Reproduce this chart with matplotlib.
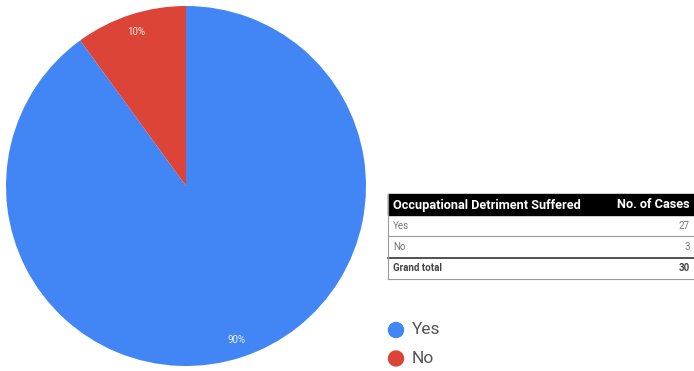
import matplotlib.pyplot as plt
from matplotlib.patches import Rectangle, Circle
from matplotlib.lines import Line2D

plt.rcParams['font.family'] = ['Roboto', 'DejaVu Sans']

# --- Daten ---
labels = ['Yes', 'No']
cases = [27, 3]
colors = ['#4285F4', '#DB4437']
header = ['Occupational Detriment Suffered', 'No. of Cases']
total_label = 'Grand total'

W, H = 694, 371
fig = plt.figure(figsize=(W / 100, H / 100), dpi=100)

# --- Pie ---
ax = fig.add_axes([6 / W, 5 / H, 360 / W, 360 / H])
ax.pie(cases, colors=colors, startangle=90, counterclock=False,
       autopct='%1.0f%%', pctdistance=0.9,
       textprops={'color': '#f0f0f0', 'fontsize': 7})
ax.set_xlim(-1, 1)
ax.set_ylim(-1, 1)
ax.set_aspect('equal')

# --- Tabelle (Pixelkoordinaten, y von oben) ---
tab = fig.add_axes([0, 0, 1, 1])
tab.set_xlim(0, W)
tab.set_ylim(H, 0)
tab.axis('off')

x0, x1 = 388, 694
tab.add_patch(Rectangle((x0, 194), x1 - x0, 21, color='black'))
tab.text(x0 + 5, 205, header[0], color='white', fontsize=9.2, fontweight='bold', va='center')
tab.text(x1 - 4, 205, header[1], color='white', fontsize=9.2, fontweight='bold', va='center', ha='right')

row_top = 215
row_h = 21.3
rows = list(zip(labels, cases)) + [(total_label, sum(cases))]
for i, (lab, val) in enumerate(rows):
    yc = row_top + row_h * (i + 0.5)
    bold = lab == total_label
    col = '#444444' if bold else '#777777'
    tab.text(x0 + 5, yc, lab, fontsize=7, color=col, va='center',
             fontweight='bold' if bold else 'normal')
    tab.text(x1 - 4, yc, str(val), fontsize=7, color=col, va='center', ha='right',
             fontweight='bold' if bold else 'normal')
    yb = row_top + row_h * (i + 1)
    lw = 1.2 if i == 1 else 0.8
    lc = '#333333' if i == 1 else '#999999'
    tab.add_line(Line2D([x0, x1], [yb, yb], color=lc, lw=lw))
tab.add_line(Line2D([x0, x0], [194, row_top + 3 * row_h], color='#999999', lw=0.8))

# --- Legende ---
for i, (lab, c) in enumerate(zip(labels, colors)):
    yc = 330 + 28.5 * i
    tab.add_patch(Circle((396, yc), 7.5, color=c))
    tab.text(412, yc, lab, fontsize=12.5, color='#555555', va='center')

fig.savefig('out.png', dpi=100)
